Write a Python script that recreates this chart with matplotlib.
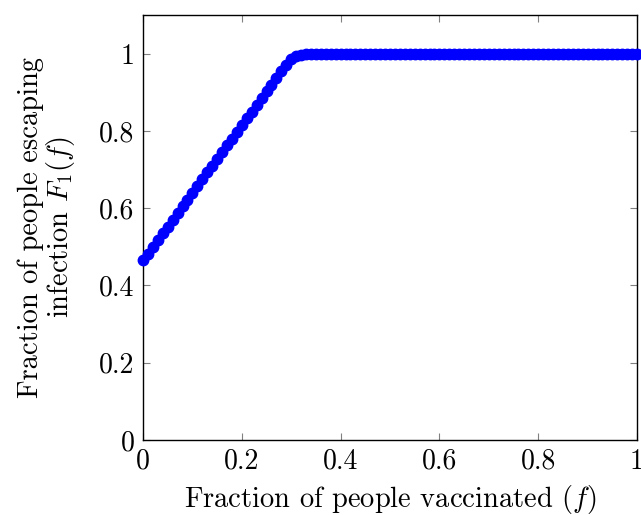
import numpy as np
import matplotlib.pyplot as plt

plt.rcParams['font.family'] = 'serif'
plt.rcParams['font.serif'] = ['cmr10']
plt.rcParams['mathtext.fontset'] = 'cm'
plt.rcParams['axes.formatter.use_mathtext'] = True

# fraction vaccinated, step 0.01
f = np.arange(101) / 100
F1 = [0.465, 0.4825, 0.500, 0.5175, 0.535, 0.5525, 0.570, 0.5875, 0.605, 0.6225,
      0.640, 0.6575, 0.675, 0.6925, 0.710, 0.7275, 0.745, 0.7625, 0.780, 0.7975,
      0.815, 0.8325, 0.850, 0.8675, 0.885, 0.9025, 0.920, 0.9375, 0.955, 0.970,
      0.985, 0.993, 0.997, 0.999] + [1.0] * 67

xticks = [0, 0.2, 0.4, 0.6, 0.8, 1]
xticklabels = ['0', '0.2', '0.4', '0.6', '0.8', '1']
yticks = [0, 0.2, 0.4, 0.6, 0.8, 1]
yticklabels = ['0', '0.2', '0.4', '0.6', '0.8', '1']

fig = plt.figure(figsize=(6.41, 5.15), dpi=100)
ax = fig.add_axes([0.2231, 0.1456, 0.7707, 0.8252])

ax.plot(f, F1, color='blue', lw=1, marker='o', ms=7.5,
        markerfacecolor='blue', markeredgecolor='blue', clip_on=False, zorder=3)

ax.set_xlim(0, 1)
ax.set_ylim(0, 1.1)
ax.set_xticks(xticks)
ax.set_xticklabels(xticklabels)
ax.set_yticks(yticks)
ax.set_yticklabels(yticklabels)
ax.tick_params(direction='in', length=5, width=0.8, color='gray',
               top=True, right=True, labelsize=20, pad=6)
for s in ax.spines.values():
    s.set_linewidth(1)
    s.set_color('black')

ax.set_xlabel('Fraction of people vaccinated $(f)$', fontsize=20.5, labelpad=6)
ax.set_ylabel('Fraction of people escaping\ninfection $F_1(f)$', fontsize=20.5,
              linespacing=1.0, labelpad=16)

fig.savefig('out.png', dpi=100)
